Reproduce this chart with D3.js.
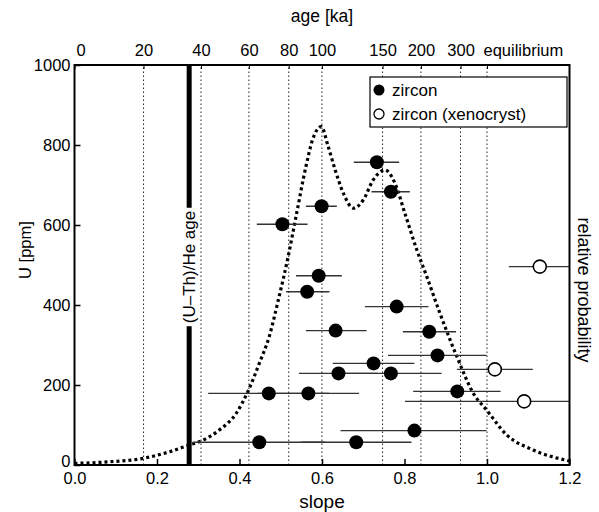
<!DOCTYPE html>
<html>
<head>
<meta charset="utf-8">
<script src="https://cdn.jsdelivr.net/npm/d3@7"></script>
<style>
  body { margin: 0; background: #fff; }
  svg { font-family: "Liberation Sans", Arial, sans-serif; }
</style>
</head>
<body>
<script>
// zircon analyses: slope, U [ppm], 1 sigma range of slope
const zrcSlope = [0.733, 0.767, 0.599, 0.504, 0.592, 0.564, 0.781, 0.633, 0.860, 0.880, 0.725,
                  0.640, 0.767, 0.471, 0.567, 0.928, 0.824, 0.448, 0.683];
const zrcU     = [757, 683, 647, 602, 473, 433, 396, 336, 333, 274, 254,
                  229, 229, 179, 179, 184, 86, 57, 57];
const zrcLo    = [0.677, 0.720, 0.561, 0.442, 0.537, 0.513, 0.704, 0.561, 0.796, 0.760, 0.626,
                  0.544, 0.644, 0.324, 0.444, 0.821, 0.645, 0.287, 0.549];
const zrcHi    = [0.787, 0.813, 0.636, 0.565, 0.648, 0.618, 0.858, 0.708, 0.925, 0.999, 0.824,
                  0.736, 0.890, 0.617, 0.690, 1.033, 0.999, 0.608, 0.817];

// xenocrysts
const xenoSlope = [1.128, 1.019, 1.090];
const xenoU     = [496, 239, 159];
const xenoLo    = [1.053, 0.927, 0.801];
const xenoHi    = [1.25, 1.111, 1.25];

// relative probability curve
const kdeSlope = [0, 0.084, 0.169, 0.230, 0.278, 0.307, 0.351, 0.392, 0.422, 0.448, 0.472, 0.496,
                  0.518, 0.537, 0.561, 0.577, 0.598, 0.615, 0.632, 0.652, 0.676, 0.700, 0.724,
                  0.753, 0.777, 0.801, 0.830, 0.854, 0.886, 0.927, 0.967, 0.999, 1.048, 1.112, 1.2];
const kdeProb  = [0.004, 0.008, 0.017, 0.033, 0.05, 0.06, 0.0875, 0.129, 0.1875, 0.254, 0.321, 0.421,
                  0.521, 0.621, 0.746, 0.8125, 0.846, 0.796, 0.7375, 0.679, 0.642, 0.6625, 0.7125,
                  0.7375, 0.704, 0.629, 0.5375, 0.471, 0.379, 0.271, 0.179, 0.1375, 0.075, 0.0375, 0.01];

const heSlope = 0.278;  // (U-Th)/He age

const ageTicks  = [0, 20, 40, 60, 80, 100, 150, 200, 300, Infinity];
const ageLabels = ["0", "20", "40", "60", "80", "100", "150", "200", "300", "equilibrium"];
const lambda230 = 9.1577e-3; // per ka
const ageToSlope = t => t === Infinity ? 1 : 1 - Math.exp(-lambda230 * t);

const slopeTicks = [0, 0.2, 0.4, 0.6, 0.8, 1.0, 1.2];
const uTicks = [0, 200, 400, 600, 800, 1000];

const width = 599, height = 512;
const margin = {top: 65, right: 29.5, bottom: 47, left: 74.5};

const svg = d3.select('body').append('svg').attr('width', width).attr('height', height);

const x = d3.scaleLinear().domain([0, 1.2]).range([margin.left, width - margin.right]);
const y = d3.scaleLinear().domain([0, 1000]).range([height - margin.bottom, margin.top]);
const p = d3.scaleLinear().domain([0, 1]).range([height - margin.bottom, margin.top]);

svg.append('clipPath').attr('id', 'clip').append('rect')
    .attr('x', margin.left).attr('y', margin.top)
    .attr('width', x(1.2) - x(0)).attr('height', y(0) - y(1000));

// age grid lines
svg.append('g').selectAll('line').data(ageTicks.slice(1)).enter().append('line')
    .attr('x1', d => x(ageToSlope(d))).attr('x2', d => x(ageToSlope(d)))
    .attr('y1', y(0)).attr('y2', y(1000))
    .attr('stroke', '#222').attr('stroke-width', 1).attr('stroke-dasharray', '1.5,2.5');

// relative probability curve
const line = d3.line().x((d, i) => x(kdeSlope[i])).y(d => p(d)).curve(d3.curveMonotoneX);
svg.append('path').datum(kdeProb).attr('d', line).attr('clip-path', 'url(#clip)')
    .attr('fill', 'none').attr('stroke', '#000').attr('stroke-width', 3.2)
    .attr('stroke-dasharray', '3,3');

// (U-Th)/He line
svg.append('line').attr('x1', x(heSlope)).attr('x2', x(heSlope))
    .attr('y1', y(0)).attr('y2', y(1000)).attr('stroke', '#000').attr('stroke-width', 5);
const heLabel = svg.append('text')
    .attr('transform', `translate(${x(heSlope) + 6},267) rotate(-90)`)
    .attr('text-anchor', 'middle').attr('font-size', 17).text('(U\u2013Th)/He age');
const hb = heLabel.node().getBBox();
svg.insert('rect', 'text').attr('x', x(heSlope) - 4).attr('width', 8)
    .attr('y', 267 - hb.width / 2 - 3).attr('height', hb.width + 6).attr('fill', '#fff');

// error bars
const bars = svg.append('g').attr('clip-path', 'url(#clip)');
bars.selectAll('line.z').data(zrcU).enter().append('line')
    .attr('x1', (d, i) => x(zrcLo[i])).attr('x2', (d, i) => x(zrcHi[i]))
    .attr('y1', d => y(d)).attr('y2', d => y(d))
    .attr('stroke', '#333').attr('stroke-width', 1.4);
bars.selectAll('line.x').data(xenoU).enter().append('line')
    .attr('x1', (d, i) => x(xenoLo[i])).attr('x2', (d, i) => x(xenoHi[i]))
    .attr('y1', d => y(d)).attr('y2', d => y(d))
    .attr('stroke', '#333').attr('stroke-width', 1.4);

svg.append('g').selectAll('circle').data(zrcU).enter().append('circle')
    .attr('cx', (d, i) => x(zrcSlope[i])).attr('cy', d => y(d)).attr('r', 7)
    .attr('fill', '#000');
svg.append('g').selectAll('circle').data(xenoU).enter().append('circle')
    .attr('cx', (d, i) => x(xenoSlope[i])).attr('cy', d => y(d)).attr('r', 6.5)
    .attr('fill', '#fff').attr('stroke', '#000').attr('stroke-width', 1.6);

// axes
const xAxis = svg.append('g').attr('transform', `translate(0,${y(0)})`)
    .call(d3.axisBottom(x).tickValues(slopeTicks).tickFormat(d3.format('.1f')).tickSize(-6).tickPadding(7));
const yAxis = svg.append('g').attr('transform', `translate(${x(0)},0)`)
    .call(d3.axisLeft(y).tickValues(uTicks).tickFormat(d3.format('d')).tickSize(-6).tickPadding(4));
const tAxis = svg.append('g').attr('transform', `translate(0,${y(1000)})`)
    .call(d3.axisTop(x).tickValues(ageTicks.map(ageToSlope))
        .tickFormat((d, i) => ageLabels[i]).tickSize(-4).tickPadding(9));
tAxis.selectAll('.tick text').filter((d, i) => i === 0).attr('dx', 6);
tAxis.selectAll('.tick text').filter((d, i) => i === ageLabels.length - 1)
    .attr('text-anchor', 'start').attr('dx', -4);
yAxis.selectAll('.tick text').filter(d => d === 0).attr('dy', '0.1em');

[xAxis, yAxis, tAxis].forEach(a => {
    a.select('.domain').remove();
    a.selectAll('.tick line').attr('stroke', '#000').attr('stroke-width', 1.5);
    a.selectAll('.tick text').attr('font-size', 16.5).attr('fill', '#000')
        .attr('font-family', '"Liberation Sans", Arial, sans-serif');
});
tAxis.selectAll('.tick line').attr('stroke-width', 1);

// frame
svg.append('rect').attr('x', x(0)).attr('y', y(1000))
    .attr('width', x(1.2) - x(0)).attr('height', y(0) - y(1000))
    .attr('fill', 'none').attr('stroke', '#000').attr('stroke-width', 2);

// titles
svg.append('text').attr('x', (x(0) + x(1.2)) / 2).attr('y', 508)
    .attr('text-anchor', 'middle').attr('font-size', 19).text('slope');
svg.append('text').attr('x', (x(0) + x(1.2)) / 2).attr('y', 22)
    .attr('text-anchor', 'middle').attr('font-size', 17.5).text('age [ka]');
svg.append('text').attr('transform', 'translate(31,250) rotate(-90)')
    .attr('text-anchor', 'middle').attr('font-size', 16.5).text('U [ppm]');
svg.append('text').attr('transform', 'translate(578,290) rotate(90)')
    .attr('text-anchor', 'middle').attr('font-size', 18).text('relative probability');

// legend
const legend = svg.append('g').attr('transform', 'translate(370,77)');
legend.append('rect').attr('width', 197).attr('height', 50)
    .attr('fill', '#fff').attr('stroke', '#000').attr('stroke-width', 1.2);
legend.append('circle').attr('cx', 9).attr('cy', 13).attr('r', 5.5).attr('fill', '#000');
legend.append('circle').attr('cx', 9).attr('cy', 37).attr('r', 5).attr('fill', '#fff')
    .attr('stroke', '#000').attr('stroke-width', 1.3);
legend.append('text').attr('x', 22).attr('y', 19).attr('font-size', 17).text('zircon');
legend.append('text').attr('x', 22).attr('y', 43).attr('font-size', 17).text('zircon (xenocryst)');
</script>
</body>
</html>
